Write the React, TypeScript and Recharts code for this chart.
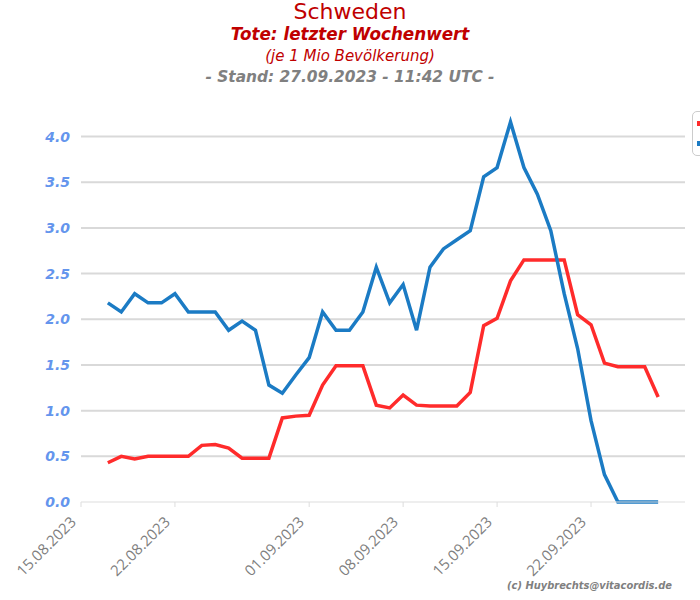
import React from 'react'
import { LineChart, Line, XAxis, YAxis, CartesianGrid } from 'recharts'

// day offset from 15.08.2023
const days = Array.from({ length: 42 }, (_, i) => i + 2)

const redValues = [
  0.43, 0.5, 0.47, 0.5, 0.5, 0.5, 0.5, 0.62, 0.63, 0.59, 0.48, 0.48, 0.48, 0.92,
  0.94, 0.95, 1.28, 1.49, 1.49, 1.49, 1.06, 1.03, 1.17, 1.06, 1.05, 1.05, 1.05,
  1.2, 1.93, 2.01, 2.42, 2.65, 2.65, 2.65, 2.65, 2.05, 1.94, 1.52, 1.48, 1.48,
  1.48, 1.15,
]

const blueValues = [
  2.18, 2.08, 2.28, 2.18, 2.18, 2.28, 2.08, 2.08, 2.08, 1.88, 1.98, 1.88, 1.28,
  1.19, 1.39, 1.58, 2.08, 1.88, 1.88, 2.08, 2.57, 2.18, 2.38, 1.88, 2.57, 2.77,
  2.87, 2.97, 3.56, 3.66, 4.16, 3.66, 3.37, 2.97, 2.28, 1.68, 0.89, 0.3, 0, 0,
  0, 0,
]

const tickDays = [0, 7, 17, 24, 31, 38]
const tickLabels = ['15.08.2023', '22.08.2023', '01.09.2023', '08.09.2023', '15.09.2023', '22.09.2023']
const yTicks = [0, 0.5, 1, 1.5, 2, 2.5, 3, 3.5, 4]

const data = days.map((d, i) => ({ d, red: redValues[i], blue: blueValues[i] }))

const RED = '#ff2b2b'
const BLUE = '#1b7bc4'

function DateTick(props: any) {
  const { x, y, payload } = props
  const idx = tickDays.indexOf(payload.value)
  const ax = x - 4
  const ay = y + 14
  return (
    <text
      x={ax}
      y={ay}
      transform={`rotate(-45, ${ax}, ${ay})`}
      textAnchor="end"
      fill="#808080"
      fontSize={15}
      fontFamily="'Open Sans', sans-serif"
    >
      {idx >= 0 ? tickLabels[idx] : ''}
    </text>
  )
}

// legend is cut off by the right edge, only the markers show
function LegendBox() {
  return (
    <div
      style={{
        position: 'absolute',
        left: 692,
        top: 111,
        width: 150,
        height: 45,
        boxSizing: 'border-box',
        border: '1px solid #cccccc',
        borderRadius: 5,
        background: '#fff',
      }}
    >
      {[RED, BLUE].map((c, i) => (
        <span
          key={c}
          style={{ position: 'absolute', left: 4, top: 9 + i * 20, width: 10, height: 5, background: c }}
        />
      ))}
    </div>
  )
}

const titleBase: React.CSSProperties = {
  position: 'absolute',
  left: 0,
  width: 700,
  textAlign: 'center',
  fontFamily: "'DejaVu Sans', sans-serif",
  whiteSpace: 'nowrap',
}

export default function App() {
  return (
    <div style={{ position: 'absolute', left: 0, top: 0, width: 700, height: 600, overflow: 'hidden', background: '#fff' }}>
      <div style={{ ...titleBase, top: -1, fontSize: 22, color: '#c00000' }}>Schweden</div>
      <div style={{ ...titleBase, top: 24, fontSize: 16.8, color: '#c00000', fontWeight: 'bold', fontStyle: 'italic' }}>
        Tote: letzter Wochenwert
      </div>
      <div style={{ ...titleBase, top: 47, fontSize: 15, color: '#c00000', fontStyle: 'italic' }}>
        (je 1 Mio Bevölkerung)
      </div>
      <div style={{ ...titleBase, top: 68, fontSize: 15.4, color: '#808080', fontWeight: 'bold', fontStyle: 'italic' }}>
        - Stand: 27.09.2023 - 11:42 UTC -
      </div>
      <LineChart width={700} height={600} data={data} margin={{ top: 100, right: 15, bottom: 0, left: 0 }}>
        <CartesianGrid vertical={false} horizontalValues={[0.5, 1, 1.5, 2, 2.5, 3, 3.5, 4]} stroke="#d9d9d9" strokeWidth={2} />
        <XAxis
          type="number"
          dataKey="d"
          domain={[0, 45]}
          ticks={tickDays}
          tick={<DateTick />}
          tickSize={5}
          stroke="#dddddd"
          height={98}
          interval={0}
        />
        <YAxis
          domain={[0, 4.4]}
          ticks={yTicks}
          width={81}
          axisLine={false}
          tickLine={false}
          tickSize={0}
          tickMargin={11}
          tickFormatter={(v: number) => v.toFixed(1)}
          tick={{ fill: '#6495ed', fontSize: 14, fontWeight: 'bold', fontStyle: 'italic', fontFamily: "'DejaVu Sans', sans-serif" }}
        />
        <Line dataKey="red" stroke={RED} strokeWidth={3.5} dot={false} isAnimationActive={false} />
        <Line dataKey="blue" stroke={BLUE} strokeWidth={3.5} dot={false} isAnimationActive={false} />
      </LineChart>
      <LegendBox />
      <div
        style={{
          position: 'absolute',
          right: 28,
          top: 579,
          fontFamily: "'DejaVu Sans Condensed', 'DejaVu Sans', sans-serif",
          fontStretch: 'condensed',
          fontSize: 11,
          fontWeight: 'bold',
          fontStyle: 'italic',
          color: '#808080',
          whiteSpace: 'nowrap',
        }}
      >
        (c) Huybrechts@vitacordis.de
      </div>
    </div>
  )
}
